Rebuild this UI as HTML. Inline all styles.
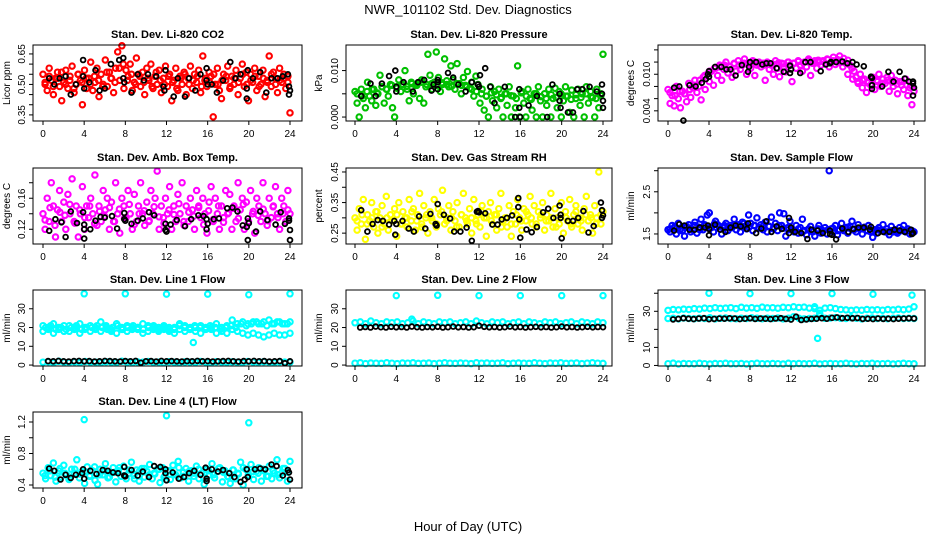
<!DOCTYPE html>
<html><head><meta charset="utf-8"><style>
body{margin:0;background:#fff;}
svg{display:block;font-family:"Liberation Sans",sans-serif;}
</style></head><body>
<svg id="chart" width="936" height="540" viewBox="0 0 936 540">
<text x="468" y="14" text-anchor="middle" font-size="13">NWR_101102  Std. Dev. Diagnostics</text>
<text x="468" y="531" text-anchor="middle" font-size="13">Hour of Day (UTC)</text>
</svg>
<script>
// ---------- data ----------
const xTicks = [0,4,8,12,16,20,24];

const co2Vals = [0.55,0.50,0.47,0.58,0.52,0.45,0.53,0.56,0.49,0.42,0.51,0.57,0.48,0.54,0.59,0.46,0.50,0.55,0.52,0.40,0.57,0.48,0.53,0.61,0.47,0.51,0.58,0.44,0.55,0.50,0.62,0.49,0.56,0.53,0.46,0.58,0.66,0.52,0.69,0.48,0.57,0.54,0.60,0.47,0.51,0.63,0.55,0.49,0.56,0.45,0.58,0.52,0.60,0.48,0.54,0.50,0.57,0.46,0.53,0.59,0.49,0.55,0.42,0.52,0.58,0.47,0.54,0.50,0.56,0.45,0.53,0.59,0.48,0.55,0.51,0.57,0.46,0.64,0.52,0.49,0.56,0.54,0.34,0.50,0.58,0.47,0.43,0.55,0.52,0.59,0.48,0.54,0.50,0.57,0.45,0.53,0.60,0.49,0.56,0.42,0.55,0.51,0.58,0.47,0.54,0.50,0.57,0.44,0.52,0.64,0.49,0.56,0.53,0.46,0.58,0.51,0.55,0.48,0.54,0.36];
const co2Vals2 = [0.51,0.54,0.49,0.53,0.56,0.50,0.52,0.48,0.55,0.51,0.53,0.50,0.54,0.52,0.49,0.56,0.53,0.51,0.58,0.60,0.52,0.55,0.50,0.54,0.51,0.53,0.49,0.56,0.52,0.50,0.54,0.51,0.48,0.53,0.55,0.50,0.52,0.54,0.49,0.53,0.51,0.55,0.50,0.52,0.54,0.49,0.53,0.51,0.55,0.50,0.52,0.54,0.49,0.53,0.51,0.55,0.50,0.52,0.53,0.51];
const co2Black = [[0.6,0.53],[1.1,0.50],[1.6,0.53],[2.2,0.54],[2.7,0.45],[3.2,0.50],[3.9,0.54],[3.9,0.62],[4.0,0.48],[4.5,0.51],[5.1,0.57],[5.5,0.47],[6.0,0.48],[6.6,0.60],[7.4,0.62],[7.8,0.63],[7.8,0.53],[7.9,0.51],[8.6,0.46],[9.2,0.55],[9.8,0.52],[10.2,0.55],[11.0,0.54],[11.7,0.49],[11.8,0.47],[11.9,0.57],[12.7,0.44],[13.1,0.53],[13.8,0.44],[14.2,0.53],[14.8,0.47],[15.3,0.55],[15.9,0.58],[15.9,0.52],[16.0,0.50],[16.4,0.50],[16.9,0.46],[17.5,0.52],[18.2,0.61],[18.7,0.53],[19.2,0.55],[19.8,0.48],[19.9,0.57],[19.8,0.43],[20.4,0.53],[21.1,0.56],[21.7,0.46],[22.2,0.53],[22.8,0.53],[23.3,0.54],[23.8,0.55],[23.9,0.49],[23.9,0.45],[24.0,0.47]];

const presVals = [0.0055,0.0030,0.0000,0.0060,0.0040,0.0020,0.0075,0.0045,0.0035,0.0060,0.0025,0.0050,0.0090,0.0065,0.0030,0.0060,0.0045,0.0070,0.0020,0.0000,0.0065,0.0080,0.0055,0.0070,0.0100,0.0060,0.0035,0.0075,0.0050,0.0068,0.0072,0.0040,0.0080,0.0030,0.0065,0.0135,0.0090,0.0060,0.0075,0.0140,0.0085,0.0055,0.0070,0.0125,0.0078,0.0065,0.0110,0.0080,0.0060,0.0115,0.0072,0.0050,0.0085,0.0068,0.0098,0.0062,0.0075,0.0045,0.0088,0.0070,0.0030,0.0060,0.0015,0.0045,0.0000,0.0065,0.0035,0.0055,0.0020,0.0060,0.0040,0.0000,0.0050,0.0025,0.0065,0.0000,0.0045,0.0020,0.0110,0.0000,0.0055,0.0030,0.0000,0.0060,0.0040,0.0015,0.0050,0.0000,0.0065,0.0035,0.0000,0.0050,0.0025,0.0060,0.0000,0.0040,0.0062,0.0020,0.0055,0.0000,0.0035,0.0065,0.0045,0.0010,0.0058,0.0000,0.0040,0.0060,0.0025,0.0050,0.0000,0.0065,0.0030,0.0055,0.0042,0.0000,0.0060,0.0020,0.0050,0.0135];
const presVals2 = [0.0050,0.0045,0.0055,0.0060,0.0052,0.0065,0.0060,0.0068,0.0062,0.0070,0.0066,0.0072,0.0068,0.0075,0.0070,0.0072,0.0068,0.0074,0.0070,0.0066,0.0072,0.0068,0.0065,0.0060,0.0055,0.0050,0.0045,0.0052,0.0048,0.0042,0.0050,0.0046,0.0040,0.0052,0.0045,0.0038,0.0050,0.0044,0.0040,0.0048,0.0042,0.0050,0.0045,0.0038,0.0048,0.0042,0.0050,0.0044,0.0040,0.0046];
const presBlack = [[0.6,0.0045],[1.5,0.0072],[2.0,0.0045],[2.6,0.0072],[3.3,0.0088],[3.9,0.0100],[4.0,0.0065],[4.0,0.0055],[4.7,0.0075],[5.6,0.0055],[6.1,0.0075],[6.7,0.0080],[7.4,0.0057],[7.6,0.0070],[8.0,0.0080],[8.0,0.0075],[8.0,0.0060],[9.0,0.0095],[9.5,0.0085],[10.0,0.0070],[10.7,0.0055],[11.3,0.0075],[11.9,0.0070],[12.0,0.0065],[12.1,0.0090],[12.6,0.0105],[13.1,0.0065],[13.5,0.0030],[14.5,0.0065],[15.5,0.0000],[15.9,0.0060],[15.9,0.0020],[16.0,0.0000],[16.8,0.0025],[17.6,0.0045],[18.6,0.0000],[19.1,0.0070],[19.8,0.0050],[19.8,0.0035],[19.9,0.0020],[20.6,0.0010],[21.1,0.0010],[21.5,0.0060],[22.0,0.0060],[22.7,0.0065],[23.4,0.0055],[23.9,0.0070],[23.9,0.0050],[24.0,0.0035],[24.0,0.0020]];

const tempVals = [0.0075,0.0052,0.0065,0.0048,0.0080,0.0060,0.0045,0.0072,0.0068,0.0055,0.0085,0.0062,0.0078,0.0090,0.0070,0.0080,0.0058,0.0095,0.0075,0.0100,0.0088,0.0105,0.0082,0.0110,0.0098,0.0115,0.0090,0.0108,0.0120,0.0102,0.0112,0.0095,0.0118,0.0105,0.0122,0.0108,0.0115,0.0125,0.0100,0.0118,0.0110,0.0122,0.0098,0.0115,0.0120,0.0112,0.0118,0.0090,0.0120,0.0108,0.0115,0.0100,0.0122,0.0110,0.0096,0.0118,0.0112,0.0104,0.0120,0.0115,0.0088,0.0118,0.0110,0.0122,0.0115,0.0105,0.0120,0.0112,0.0125,0.0098,0.0118,0.0122,0.0110,0.0120,0.0115,0.0122,0.0118,0.0125,0.0112,0.0120,0.0128,0.0116,0.0124,0.0130,0.0120,0.0126,0.0118,0.0123,0.0115,0.0110,0.0105,0.0095,0.0085,0.0100,0.0078,0.0092,0.0070,0.0088,0.0082,0.0095,0.0075,0.0090,0.0100,0.0080,0.0092,0.0085,0.0095,0.0072,0.0098,0.0080,0.0090,0.0068,0.0088,0.0082,0.0075,0.0092,0.0065,0.0078,0.0050,0.0072];
const tempVals2 = [0.0070,0.0065,0.0072,0.0068,0.0075,0.0082,0.0090,0.0098,0.0105,0.0110,0.0112,0.0115,0.0113,0.0117,0.0115,0.0118,0.0116,0.0119,0.0117,0.0115,0.0118,0.0116,0.0119,0.0117,0.0120,0.0118,0.0121,0.0119,0.0122,0.0120,0.0123,0.0121,0.0124,0.0122,0.0120,0.0112,0.0100,0.0092,0.0088,0.0090,0.0086,0.0092,0.0088,0.0085,0.0090,0.0087,0.0084,0.0088,0.0082,0.0080];
const tempBlack = [[0.6,0.0078],[1.1,0.0080],[1.5,0.0024],[2.1,0.0082],[2.7,0.0080],[3.3,0.0086],[3.7,0.0092],[3.9,0.0100],[4.0,0.0096],[4.0,0.0105],[4.6,0.0112],[5.2,0.0112],[5.7,0.0108],[6.1,0.0108],[6.6,0.0098],[7.2,0.0115],[7.8,0.0104],[7.9,0.0112],[8.0,0.0120],[8.6,0.0120],[9.2,0.0116],[9.6,0.0118],[10.0,0.0118],[10.6,0.0110],[11.3,0.0104],[11.9,0.0102],[11.9,0.0114],[12.0,0.0108],[12.9,0.0102],[13.4,0.0120],[13.9,0.0120],[14.9,0.0105],[15.4,0.0116],[15.8,0.0118],[15.9,0.0120],[16.4,0.0120],[17.0,0.0121],[17.5,0.0118],[18.0,0.0120],[18.4,0.0116],[19.1,0.0113],[19.8,0.0096],[19.9,0.0094],[19.9,0.0082],[19.9,0.0076],[20.9,0.0080],[21.5,0.0104],[22.0,0.0088],[22.6,0.0104],[23.1,0.0093],[23.5,0.0088],[23.9,0.0088],[23.9,0.0085],[24.0,0.0078],[23.9,0.0065]];

const ambVals = [0.14,0.12,0.16,0.13,0.18,0.15,0.11,0.145,0.17,0.13,0.155,0.12,0.165,0.14,0.185,0.13,0.15,0.11,0.14,0.175,0.12,0.15,0.135,0.16,0.14,0.19,0.125,0.15,0.13,0.17,0.145,0.16,0.12,0.155,0.13,0.18,0.14,0.115,0.16,0.15,0.135,0.17,0.14,0.12,0.165,0.13,0.15,0.18,0.14,0.125,0.155,0.13,0.17,0.14,0.16,0.195,0.12,0.15,0.135,0.16,0.14,0.175,0.12,0.15,0.13,0.165,0.14,0.18,0.125,0.15,0.13,0.16,0.145,0.12,0.17,0.15,0.135,0.16,0.14,0.115,0.155,0.175,0.13,0.16,0.14,0.12,0.15,0.135,0.17,0.14,0.165,0.12,0.15,0.13,0.18,0.145,0.16,0.12,0.155,0.13,0.17,0.14,0.115,0.16,0.15,0.13,0.18,0.14,0.125,0.16,0.135,0.15,0.175,0.14,0.12,0.16,0.15,0.13,0.17,0.14];
const ambVals2 = [0.132,0.148,0.125,0.142,0.138,0.152,0.128,0.145,0.135,0.15,0.127,0.143,0.137,0.148,0.13,0.146,0.134,0.152,0.126,0.14,0.144,0.131,0.149,0.136,0.128,0.145,0.139,0.153,0.13,0.142,0.137,0.148,0.126,0.144,0.133,0.15,0.129,0.141,0.147,0.134,0.152,0.128,0.143,0.138,0.146,0.131,0.149,0.135,0.14,0.145];
const ambBlack = [[0.6,0.118],[1.2,0.133],[1.8,0.129],[2.2,0.110],[2.7,0.143],[3.3,0.128],[3.9,0.142],[4.0,0.120],[4.0,0.126],[4.0,0.108],[4.6,0.120],[5.1,0.131],[5.6,0.136],[6.0,0.135],[6.7,0.137],[7.2,0.121],[7.9,0.141],[7.9,0.133],[8.0,0.131],[8.6,0.127],[9.2,0.131],[9.7,0.134],[10.3,0.142],[10.8,0.138],[11.9,0.119],[11.9,0.127],[12.0,0.117],[12.4,0.126],[13.0,0.132],[13.8,0.124],[14.4,0.133],[15.1,0.138],[15.6,0.137],[15.9,0.133],[15.9,0.120],[16.0,0.127],[16.6,0.133],[17.1,0.134],[17.9,0.147],[18.4,0.148],[18.9,0.143],[19.4,0.125],[19.8,0.123],[19.9,0.134],[20.0,0.128],[19.9,0.106],[20.7,0.117],[21.1,0.143],[21.8,0.132],[22.6,0.126],[23.1,0.142],[23.5,0.127],[23.9,0.134],[23.9,0.131],[24.0,0.119],[24.0,0.106]];

const rhVals = [0.30,0.26,0.33,0.28,0.36,0.23,0.31,0.29,0.35,0.27,0.32,0.25,0.30,0.34,0.28,0.37,0.26,0.31,0.29,0.33,0.24,0.35,0.28,0.32,0.30,0.27,0.36,0.29,0.33,0.26,0.31,0.38,0.28,0.34,0.30,0.25,0.32,0.29,0.36,0.27,0.33,0.31,0.39,0.28,0.30,0.34,0.26,0.32,0.29,0.35,0.27,0.31,0.38,0.30,0.28,0.33,0.25,0.36,0.29,0.31,0.27,0.34,0.30,0.24,0.32,0.35,0.28,0.31,0.26,0.33,0.38,0.29,0.30,0.27,0.34,0.24,0.32,0.28,0.36,0.30,0.26,0.33,0.29,0.31,0.37,0.28,0.34,0.27,0.32,0.30,0.35,0.26,0.31,0.29,0.38,0.27,0.33,0.30,0.28,0.35,0.25,0.32,0.29,0.36,0.27,0.31,0.34,0.28,0.30,0.26,0.33,0.37,0.29,0.31,0.25,0.34,0.30,0.45,0.28,0.32];
const rhVals2 = [0.29,0.31,0.28,0.30,0.32,0.27,0.30,0.29,0.31,0.28,0.30,0.32,0.29,0.27,0.31,0.30,0.28,0.32,0.29,0.30,0.27,0.31,0.29,0.30,0.28,0.32,0.30,0.29,0.31,0.27,0.30,0.28,0.31,0.29,0.32,0.30,0.28,0.31,0.29,0.30,0.27,0.31,0.30,0.28,0.32,0.29,0.31,0.30,0.28,0.31];
const rhBlack = [[0.6,0.325],[1.2,0.255],[1.7,0.28],[2.2,0.293],[2.7,0.29],[3.3,0.278],[3.8,0.29],[3.9,0.245],[4.0,0.28],[4.6,0.29],[5.2,0.265],[5.7,0.255],[6.2,0.305],[6.8,0.265],[7.3,0.313],[7.8,0.28],[7.9,0.275],[8.0,0.345],[8.6,0.31],[9.2,0.298],[9.6,0.255],[10.2,0.255],[10.8,0.268],[11.3,0.225],[11.8,0.32],[11.9,0.322],[12.0,0.318],[12.6,0.315],[13.3,0.278],[13.8,0.278],[14.2,0.295],[14.7,0.30],[15.2,0.308],[15.8,0.365],[15.8,0.335],[15.9,0.295],[16.0,0.235],[16.6,0.262],[17.1,0.253],[17.6,0.27],[18.2,0.318],[18.7,0.33],[19.2,0.30],[19.8,0.34],[19.9,0.31],[19.9,0.30],[20.0,0.233],[20.6,0.29],[21.1,0.29],[21.6,0.30],[22.1,0.322],[22.6,0.252],[23.1,0.273],[23.8,0.35],[23.9,0.325],[24.0,0.308],[23.9,0.30]];

const flowVals = [1.60,1.55,1.70,1.65,1.50,1.75,1.62,1.58,1.45,1.68,1.72,1.55,1.60,1.78,1.52,1.66,1.85,1.60,1.70,1.95,2.00,1.65,1.55,1.80,1.72,1.62,1.50,1.68,1.75,1.58,1.70,1.65,1.85,1.60,1.72,1.55,1.78,1.68,1.62,1.95,1.75,1.58,1.70,1.88,1.65,1.72,1.60,1.78,1.55,1.68,1.90,1.62,1.75,1.58,2.00,1.70,1.98,1.45,1.65,1.80,1.60,1.55,1.70,1.52,1.65,1.85,1.58,1.48,1.62,1.68,1.55,1.45,1.60,1.70,1.52,1.58,1.65,1.50,3.00,1.62,1.55,1.70,1.48,1.60,1.75,1.58,1.65,1.52,1.68,1.80,1.60,1.55,1.72,1.62,1.50,1.66,1.58,1.70,1.55,1.42,1.60,1.52,1.65,1.58,1.72,1.55,1.62,1.48,1.68,1.55,1.60,1.52,1.65,1.58,1.70,1.55,1.62,1.50,1.58,1.55];
const flowVals2 = [1.62,1.68,1.58,1.66,1.63,1.70,1.60,1.72,1.66,1.74,1.68,1.70,1.65,1.72,1.68,1.75,1.66,1.70,1.64,1.72,1.68,1.66,1.70,1.64,1.60,1.58,1.62,1.56,1.60,1.58,1.62,1.57,1.60,1.64,1.58,1.62,1.66,1.60,1.64,1.62,1.58,1.56,1.60,1.58,1.55,1.58,1.56,1.60,1.57,1.55];
const flowBlack = [[0.6,1.58],[1.1,1.73],[1.6,1.70],[2.1,1.60],[2.6,1.60],[3.1,1.65],[3.6,1.65],[3.9,1.70],[4.0,1.47],[4.0,1.62],[4.6,1.72],[5.1,1.60],[5.6,1.55],[6.1,1.65],[6.6,1.70],[7.1,1.68],[7.7,1.62],[7.8,1.75],[8.6,1.52],[9.1,1.63],[9.6,1.80],[10.1,1.55],[10.6,1.68],[11.1,1.62],[11.8,1.88],[11.8,1.52],[12.0,1.65],[12.4,1.55],[13.0,1.52],[13.6,1.38],[14.0,1.60],[14.6,1.58],[15.1,1.52],[15.8,1.58],[15.8,1.50],[16.0,1.48],[16.4,1.37],[17.0,1.63],[17.6,1.55],[18.1,1.62],[18.6,1.65],[19.1,1.65],[19.7,1.60],[19.8,1.67],[20.5,1.52],[21.0,1.55],[21.6,1.55],[22.1,1.60],[22.6,1.58],[23.1,1.55],[23.7,1.60],[23.8,1.50],[23.9,1.52]];

const line1BandA = [21,19,22,20,18,21,20,22,19,21,20,23,21,19,22,20,21,19,20,22,21,19,20,21,19,20,22,21,19,20,21,20,19,22,20,21,19,22,23,22,23,22,23,24,22,23,22,23];
const line1BandB = [18,20,17,19,21,18,19,17,20,18,19,18,20,18,17,19,18,20,19,17,18,20,18,19,18,17,19,18,20,18,17,19,20,17,18,17,24,18,17,16,17,16,15,16,17,16,16,17];
const line1BandC = [20,21,19,20,19,20,21,19,20,20,21,20,19,20,21,19,20,21,20,19,20,21,19,20,20,19,21,20,19,21,20,19,21,20,19,20,21,20,22,21,22,23,22,21,22,23,22,22];
const line1Low = [1.5,1.8,1.2,2.0,1.5,1.4,1.7,1.3,1.9,1.5,1.6,1.2,1.8,1.5,1.4,2.0,1.6,1.3,1.7,1.5,1.9,1.4,1.6,1.2,1.8,1.5,1.3,1.7,1.6,1.4,1.9,1.5,1.2,1.8,1.6,1.4,1.7,1.5,1.3,1.9,1.6,1.4,1.8,1.5,1.2,1.7,1.6,1.5];
const line1Out = [[4,38],[8,38],[12,37.8],[16,37.8],[20,37.5],[24,38],[14.6,12]];
const line1Black = [2.1,2.0,2.2,2.0,1.9,2.1,2.2,2.0,2.1,1.9,2.0,2.2,2.1,2.0,1.9,2.1,2.0,2.2,1.2,2.0,2.1,1.9,2.2,2.0,2.1,2.0,1.9,2.1,2.0,2.2,2.0,2.1,1.9,2.0,2.1,2.2,2.0,1.9,2.1,2.0,2.2,2.0,2.1,1.9,2.0,2.1,1.0,2.0];

const line2Band = [22.5,23,22,23.5,22.5,22,23,22.5,23,22,22.5,23.5,22,23,22.5,22,23,22.5,23,22,22.5,23,22,23.5,22.5,22,23,22.5,23,22,22.5,23,22,23,22.5,22,23,22.5,23,22,22.5,23,22,23,22.5,22,23,22.5];
const line2Low = [1.0,1.2,0.8,1.1,1.0,0.9,1.2,1.0,0.8,1.1,1.0,1.2,0.9,1.0,1.1,0.8,1.0,1.2,1.0,0.9,1.1,1.0,0.8,1.2,1.0,1.1,0.9,1.0,1.2,0.8,1.0,1.1,1.0,0.9,1.2,1.0,0.8,1.1,1.0,1.2,0.9,1.0,1.1,0.8,1.0,1.2,1.0,0.9];
const line2Out = [[4,37],[8,37.2],[12,37],[16,37],[20,37],[24,37],[5.5,24.5]];
const line2Black = [20,20.3,20,20.5,20.2,20,20.4,20.1,20.3,20,20.5,20.2,20,20.3,20.1,20.4,20,20.2,20.5,20.1,20.3,20,20.2,21,20.4,20.1,20.3,20,20.2,20.5,20.1,20.3,20,20.2,20.4,20.1,20.3,20,20.2,20.5,20.1,20.3,20,20.2,20.4,20.1,20.3,20.2];

const line3Band = [30.5,31,30.8,31.2,31,31.5,31.2,31.8,31.5,32,31.6,31.8,32,31.5,32.2,31.8,32,31.6,32.3,31.9,32,31.7,32.2,32,32.5,32.1,32.3,31.8,31.5,30.5,31.8,32,31.5,31,30.8,30.5,30.8,30.6,31,30.7,30.9,30.6,31,30.8,31.1,30.9,31.2,32.5];
const line3Mid = [26,26.2,25.8,26.3,26,25.9,26.2,26,26.4,25.8,26.1,26.3,26,25.9,26.2,26,26.4,26.1,25.9,26.2,26,26.3,25.8,26.1,27,26.2,25.8,26,26.2,28,26.1,26.3,26.5,26.2,26,26.4,26.2,25.8,26.1,26.3,26,26.2,25.9,26.1,26.3,26,26.2,26];
const line3Low = [1.0,1.3,0.8,1.1,1.0,0.9,1.2,1.0,0.8,1.1,1.0,1.2,0.9,1.0,1.1,0.8,1.0,1.2,1.0,0.9,1.1,1.0,0.8,1.2,1.0,1.1,0.9,1.0,1.2,0.8,1.0,1.1,1.0,0.9,1.2,1.0,0.8,1.1,1.0,1.2,0.9,1.0,1.1,0.8,1.0,1.2,1.0,0.9];
const line3Out = [[4,40],[8,39.8],[12,39.8],[16,39.8],[20,39.5],[23.8,39],[14.6,15],[14.3,32.5],[14.8,29]];
const line3Black = [25.5,25.8,26.2,25.9,25.7,26.0,26.2,25.6,25.8,26.0,25.9,26.1,26.0,25.7,25.9,26.1,25.8,26.0,25.9,25.7,26.0,26.2,25.8,25.4,27,25.2,25.5,25.8,25.9,26.2,25.9,26.4,26.6,26.2,26.4,26.1,26.3,25.8,25.9,25.7,26.0,25.8,25.9,25.7,25.9,26.0,26.1,26.0];

const line4Vals = [0.55,0.48,0.62,0.52,0.68,0.45,0.58,0.50,0.65,0.53,0.47,0.60,0.55,0.72,0.49,0.57,0.42,0.63,0.52,0.58,0.46,0.41,0.60,0.53,0.67,0.49,0.56,0.62,0.44,0.58,0.51,0.64,0.48,0.55,0.69,0.52,0.59,0.45,0.61,0.50,0.57,0.66,0.48,0.54,0.60,0.43,0.62,0.52,0.58,0.47,0.65,0.53,0.70,0.49,0.56,0.61,0.45,0.58,0.51,0.64,0.48,0.55,0.41,0.60,0.53,0.67,0.49,0.57,0.62,0.44,0.58,0.51,0.42,0.59,0.48,0.55,0.69,0.40,0.60,0.53,0.66,0.47,0.57,0.62,0.45,0.58,0.51,0.64,0.48,0.55,0.72,0.49,0.56,0.61,0.45,0.70];
const line4Vals2 = [0.52,0.58,0.50,0.61,0.55,0.49,0.60,0.54,0.57,0.51,0.63,0.53,0.58,0.50,0.56,0.62,0.52,0.59,0.48,0.57,0.61,0.53,0.55,0.60,0.50,0.58,0.54,0.62,0.51,0.57,0.55,0.60,0.49,0.58,0.53,0.61,0.56,0.50,0.59,0.54,0.62,0.52,0.57,0.55,0.60,0.51,0.58,0.53,0.61,0.56];
const line4Out = [[4,1.23],[12,1.28],[20,1.19]];
const line4Black = [[0.6,0.61],[1.1,0.58],[1.7,0.47],[2.2,0.53],[2.7,0.49],[3.2,0.53],[3.8,0.55],[3.9,0.60],[4.0,0.48],[4.6,0.58],[5.2,0.54],[5.8,0.59],[6.3,0.58],[6.8,0.56],[7.3,0.55],[7.9,0.63],[7.9,0.52],[8.0,0.51],[8.6,0.59],[9.2,0.52],[9.7,0.57],[10.3,0.50],[10.8,0.64],[11.4,0.63],[11.9,0.55],[11.9,0.60],[12.0,0.46],[12.6,0.56],[13.2,0.48],[13.7,0.50],[14.2,0.55],[14.7,0.58],[15.3,0.53],[15.8,0.62],[15.9,0.48],[15.9,0.45],[16.4,0.60],[17.0,0.57],[17.5,0.59],[18.1,0.55],[18.6,0.50],[19.2,0.44],[19.6,0.47],[19.8,0.60],[19.9,0.50],[20.6,0.60],[21.1,0.61],[21.6,0.60],[22.2,0.66],[22.7,0.64],[23.3,0.52],[23.8,0.59],[23.9,0.56],[24.0,0.47]];

// ---------- rendering ----------
const NS = "http://www.w3.org/2000/svg";
const svg = document.getElementById('chart');
const cols = [{l:33,x0:43,x24:290,r:302,lab:10},{l:346,x0:355,x24:603,r:612,lab:322},{l:658,x0:668,x24:914,r:925,lab:634}];
const rows = [{t:45,b:121},{t:168,b:244},{t:290,b:366},{t:412,b:488}];

function mk(tag, attrs, parent){
  const e = document.createElementNS(NS, tag);
  for (const k in attrs) e.setAttribute(k, attrs[k]);
  (parent||svg).appendChild(e);
  return e;
}
// spread values evenly over a span of hours (sampling times)
function spread(vals, start, end){ const s = start||0, e = (end===undefined)?24:end; const n = vals.length; return vals.map((v,i)=>[s + i*(e-s)/(n-1), v]); }

function panel(cfg){
  const c = cols[cfg.col], r = rows[cfg.row];
  const g = mk('g', {});
  
  
  const xs = h => c.x0 + (c.x24 - c.x0) * h / 24;
  const ys = v => r.b - (v - cfg.ymin) / (cfg.ymax - cfg.ymin) * (r.b - r.t);
  const pts = mk('g', {fill:'none'}, g);
  
  
  cfg.series.forEach(s => {
    const isBlack = s.color === '#000';
    s.data.forEach(p => {
      const y = ys(p[1]);
      const ci = mk('circle', {cx:xs(p[0]).toFixed(1), cy:y.toFixed(1), r:isBlack?2.4:2.7, stroke:s.color, 'stroke-width':isBlack?1.8:2.1}, pts);
      
      
    });
  });
  const box = mk('rect', {x:c.l, y:r.t, width:c.r-c.l, height:r.b-r.t, fill:'none', stroke:'#000', 'stroke-width':1}, g);
  
  
  const title = mk('text', {x:(c.l+c.r)/2, y:r.t-7, 'text-anchor':'middle','font-size':'11','font-weight':'bold'}, g);
  title.textContent = cfg.title;
  
  
  xTicks.forEach(t => {
    const x = xs(t);
    const tk = mk('line', {x1:x, x2:x, y1:r.b, y2:r.b+4, stroke:'#000'}, g);
    
    
    const tl = mk('text', {x:x, y:r.b+16, 'text-anchor':'middle','font-size':'10'}, g);
    tl.textContent = t;
    
    
  });
  cfg.yTicks.forEach(t => {
    const y = ys(t);
    const tk = mk('line', {x1:c.l-4, x2:c.l, y1:y, y2:y, stroke:'#000'}, g);
    
    
  });
  cfg.yLabels.forEach(t => {
    const y = ys(parseFloat(t));
    const tl = mk('text', {x:0, y:0, 'text-anchor':'middle','font-size':'10', transform:`translate(${c.l-8},${y}) rotate(-90)`}, g);
    tl.textContent = t;
    
    
  });
  const yl = mk('text', {x:0, y:0, 'text-anchor':'middle','font-size':'10', transform:`translate(${c.lab},${(r.t+r.b)/2}) rotate(-90)`}, g);
  yl.textContent = cfg.ylab;
  
  
}

const black = '#000';
panel({name:'co2', col:0,row:0, title:'Stan. Dev. Li-820 CO2', ylab:'Licor ppm', ymin:0.320, ymax:0.694,
  yTicks:[0.35,0.40,0.45,0.50,0.55,0.60,0.65], yLabels:['0.35','0.50','0.65'],
  series:[{color:'#ff0000', data:spread(co2Vals)},{color:'#ff0000', data:spread(co2Vals2,0.2,23.8)},{color:black, data:co2Black}]});
panel({name:'pressure', col:1,row:0, title:'Stan. Dev. Li-820 Pressure', ylab:'kPa', ymin:-0.00085, ymax:0.0155,
  yTicks:[0,0.005,0.010], yLabels:['0.000','0.010'],
  series:[{color:'#00c000', data:spread(presVals)},{color:'#00c000', data:spread(presVals2,0.2,23.8)},{color:black, data:presBlack}]});
panel({name:'temp', col:2,row:0, title:'Stan. Dev. Li-820 Temp.', ylab:'degrees C', ymin:0.00233, ymax:0.0148,
  yTicks:[0.004,0.006,0.008,0.010,0.012,0.014], yLabels:['0.004','0.010'],
  series:[{color:'#ff00ff', data:spread(tempVals)},{color:'#ff00ff', data:spread(tempVals2,0.2,23.8)},{color:black, data:tempBlack}]});
panel({name:'amb-box', col:0,row:1, title:'Stan. Dev. Amb. Box Temp.', ylab:'degrees C', ymin:0.101, ymax:0.199,
  yTicks:[0.12,0.14,0.16,0.18], yLabels:['0.12','0.16'],
  series:[{color:'#ff00ff', data:spread(ambVals)},{color:'#ff00ff', data:spread(ambVals2,0.2,23.8)},{color:black, data:ambBlack}]});
panel({name:'rh', col:1,row:1, title:'Stan. Dev. Gas Stream RH', ylab:'percent', ymin:0.2145, ymax:0.463,
  yTicks:[0.25,0.30,0.35,0.40,0.45], yLabels:['0.25','0.35','0.45'],
  series:[{color:'#ffff00', data:spread(rhVals)},{color:'#ffff00', data:spread(rhVals2,0.2,23.8)},{color:black, data:rhBlack}]});
panel({name:'sample-flow', col:2,row:1, title:'Stan. Dev. Sample Flow', ylab:'ml/min', ymin:1.262, ymax:3.064,
  yTicks:[1.5,2.0,2.5,3.0], yLabels:['1.5','2.5'],
  series:[{color:'#0000ff', data:spread(flowVals)},{color:'#0000ff', data:spread(flowVals2,0.2,23.8)},{color:black, data:flowBlack}]});
panel({name:'line1', col:0,row:2, title:'Stan. Dev. Line 1 Flow', ylab:'ml/min', ymin:-0.5, ymax:40,
  yTicks:[0,10,20,30], yLabels:['0','10','20','30'],
  series:[{color:'#00ffff', data:spread(line1BandA)},{color:'#00ffff', data:spread(line1BandB)},{color:'#00ffff', data:spread(line1BandC,0.25,23.75)},{color:'#00ffff', data:spread(line1Low)},{color:'#00ffff', data:line1Out},{color:black, data:spread(line1Black,0.5,24)}]});
panel({name:'line2', col:1,row:2, title:'Stan. Dev. Line 2 Flow', ylab:'ml/min', ymin:-0.5, ymax:40,
  yTicks:[0,10,20,30], yLabels:['0','10','20','30'],
  series:[{color:'#00ffff', data:spread(line2Band)},{color:'#00ffff', data:spread(line2Low)},{color:'#00ffff', data:line2Out},{color:black, data:spread(line2Black,0.5,24)}]});
panel({name:'line3', col:2,row:2, title:'Stan. Dev. Line 3 Flow', ylab:'ml/min', ymin:-0.3, ymax:41.8,
  yTicks:[0,10,20,30,40], yLabels:['0','10','30'],
  series:[{color:'#00ffff', data:spread(line3Band)},{color:'#00ffff', data:spread(line3Mid)},{color:'#00ffff', data:spread(line3Low)},{color:'#00ffff', data:line3Out},{color:black, data:spread(line3Black,0.5,24)}]});
panel({name:'line4', col:0,row:3, title:'Stan. Dev. Line 4 (LT) Flow', ylab:'ml/min', ymin:0.362, ymax:1.327,
  yTicks:[0.4,0.6,0.8,1.0,1.2], yLabels:['0.4','0.8','1.2'],
  series:[{color:'#00ffff', data:spread(line4Vals)},{color:'#00ffff', data:spread(line4Vals2,0.2,23.8)},{color:'#00ffff', data:line4Out},{color:black, data:line4Black}]});
</script>
</body></html>
